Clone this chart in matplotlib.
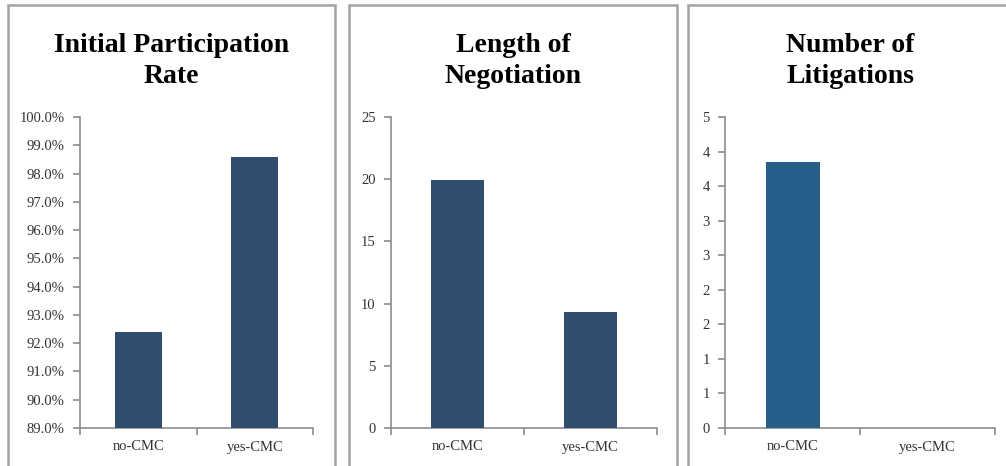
import matplotlib

matplotlib.use("Agg")
import matplotlib.pyplot as plt
from matplotlib.patches import Rectangle
from matplotlib.ticker import FixedLocator, FuncFormatter
import numpy as np

# data
categories = ["no-CMC", "yes-CMC"]
participation_rate = [92.4, 98.6]  # percent
negotiation_length = [19.9, 9.3]
litigations = [3.85, 0.0]

titles = ["Initial Participation\nRate", "Length of\nNegotiation", "Number of\nLitigations"]

W, H = 1006, 466
SERIF = ["Liberation Serif", "DejaVu Serif"]
AXIS_GREY = "#8c8c8c"
TEXT = "#333333"


def px_box(left: float, top: float, right: float, bottom: float) -> list:
    """Convert a pixel box (origin top-left) to figure fractions."""
    return [left / W, 1 - bottom / H, (right - left) / W, (bottom - top) / H]


def half_up(v: float, pos=None) -> str:
    # excel-ish rounding: 0.5 -> 1, 2.5 -> 3
    return str(int(np.floor(v + 0.5 + 1e-9)))


def draw_panel(fig, box, frame, title, values, ylim, ystep, fmt, color):
    # grey chart frame, bottom runs off the picture
    fl, ft, fr = frame
    fig.patches.append(
        Rectangle(
            (fl / W, -0.05),
            (fr - fl) / W,
            1.05 - ft / H,
            transform=fig.transFigure,
            fill=False,
            edgecolor="#a3a3a3",
            linewidth=1.8,
        )
    )
    fig.text(
        (fl + fr) / 2 / W,
        1 - 33 / H,
        title,
        ha="center",
        va="top",
        fontsize=20,
        fontweight="bold",
        family=SERIF,
        linespacing=1.32,
    )

    ax = fig.add_axes(px_box(*box))
    x = np.arange(len(categories))
    ax.bar(x, values, width=0.4, color=color, zorder=3)
    ax.set_xlim(-0.5, len(categories) - 0.5)
    ax.set_ylim(*ylim)

    ax.set_xticks(x)
    ax.set_xticklabels(categories)
    ax.xaxis.set_minor_locator(FixedLocator(np.arange(-0.5, len(categories), 1.0)))
    ax.tick_params(axis="x", which="major", length=0, pad=9)
    ax.tick_params(axis="x", which="minor", length=5, width=1.2, color=AXIS_GREY, direction="out")

    ax.set_yticks(np.arange(ylim[0], ylim[1] + ystep / 2, ystep))
    ax.yaxis.set_major_formatter(FuncFormatter(fmt))
    ax.tick_params(axis="y", length=5, width=1.2, color=AXIS_GREY, direction="out", pad=6)

    for lab in ax.get_xticklabels() + ax.get_yticklabels():
        lab.set_family(SERIF)
        lab.set_fontsize(10.5)
        lab.set_color(TEXT)

    for side in ["top", "right"]:
        ax.spines[side].set_visible(False)
    for side in ["left", "bottom"]:
        ax.spines[side].set_color(AXIS_GREY)
        ax.spines[side].set_linewidth(1.2)
    ax.set_facecolor("none")
    return ax


fig = plt.figure(figsize=(W / 100, H / 100), dpi=100)

draw_panel(
    fig, (80, 117, 313, 428), (8, 5, 335), titles[0],
    participation_rate, (89, 100), 1.0,
    lambda v, p: f"{v:.1f}%", "#2e4d6f",
)
draw_panel(
    fig, (391, 117, 657, 428), (349, 5, 677), titles[1],
    negotiation_length, (0, 25), 5,
    lambda v, p: f"{v:.0f}", "#2e4d6f",
)
draw_panel(
    fig, (725, 117, 995, 428), (688, 5, 1012), titles[2],
    litigations, (0, 4.5), 0.5,
    half_up, "#285e8a",
)

fig.savefig("out.png", dpi=100)
